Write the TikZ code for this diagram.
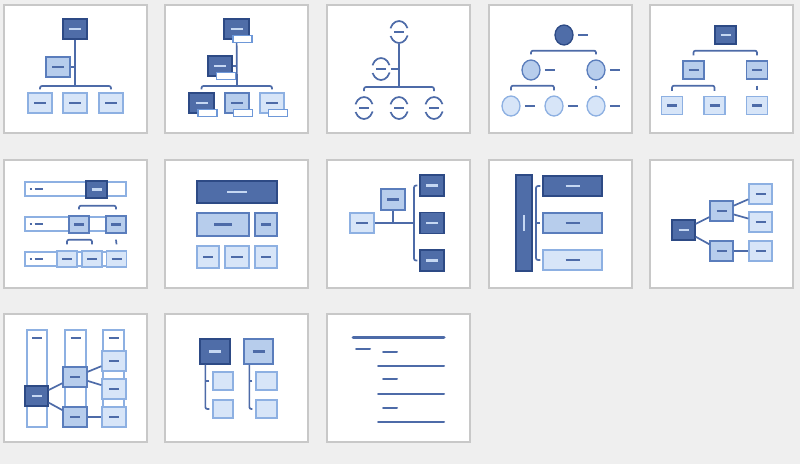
\documentclass[tikz,border=0pt]{standalone}
\usepackage{tikz}
\usetikzlibrary{shapes.geometric}

\definecolor{bgc}{HTML}{EFEFEF}
\definecolor{tilec}{HTML}{C8C8C8}
\definecolor{lnc}{HTML}{4D6BA8}
\definecolor{dkfill}{HTML}{4F6DA8}
\definecolor{dkdraw}{HTML}{2D4A85}
\definecolor{dktext}{HTML}{C5D7F2}
\definecolor{mdfill}{HTML}{B7CDEC}
\definecolor{mddraw}{HTML}{5A7DBC}
\definecolor{ltfill}{HTML}{D7E5F8}
\definecolor{ltdraw}{HTML}{8DB0E2}
\definecolor{subc}{HTML}{6E98D8}

\newcommand{\dsh}[1][12]{\rule{#1pt}{2.2pt}}

\begin{document}
\begin{tikzpicture}[x=1pt,y=-1pt,
  tile/.style={draw=tilec,fill=white,line width=2pt},
  ln/.style={draw=lnc,line width=1.7pt},
  bx/.style={rectangle,inner sep=0pt,minimum width=24pt,minimum height=20pt,line width=1.3pt},
  dk/.style={bx,fill=dkfill,draw=dkdraw,text=dktext},
  md/.style={bx,fill=mdfill,draw=mddraw,text=lnc},
  lt/.style={bx,fill=ltfill,draw=ltdraw,text=lnc},
  sub/.style={rectangle,inner sep=0pt,minimum width=19pt,minimum height=7pt,fill=white,draw=subc,line width=1.1pt},
  lbl/.style={inner sep=0pt,text=lnc},
  ov/.style={ellipse,inner sep=0pt,minimum width=18pt,minimum height=22pt,draw=lnc,line width=1.7pt,
    dash pattern=on 23.8pt off 7.7pt,dash phase=27.65pt,text=lnc},
  ovl/.style={ellipse,minimum width=18pt,minimum height=20pt,
    label={[lbl,label distance=4pt]right:{\dsh[10]}}},
  bar/.style={rectangle,inner sep=0pt,minimum width=101pt,minimum height=14pt,fill=white,draw=ltdraw,line width=1.3pt,
    label={[lbl,anchor=west,xshift=5pt]west:{\dsh[2.5]\hspace{2.5pt}\dsh[8]}}},
  col/.style={rectangle,inner sep=0pt,minimum width=20pt,minimum height=97pt,fill=white,draw=ltdraw,line width=1.3pt,
    label={[lbl,anchor=north,yshift=-7pt]north:{\dsh[10]}}}
]
\useasboundingbox (0,0) rectangle (800,464);
\fill[bgc] (0,0) rectangle (800,464);

% frames
\draw[tile] (4,5) rectangle (147,133);
\draw[tile] (165,5) rectangle (308,133);
\draw[tile] (327,5) rectangle (470,133);
\draw[tile] (489,5) rectangle (632,133);
\draw[tile] (650,5) rectangle (793,133);
\draw[tile] (4,160) rectangle (147,288);
\draw[tile] (165,160) rectangle (308,288);
\draw[tile] (327,160) rectangle (470,288);
\draw[tile] (489,160) rectangle (632,288);
\draw[tile] (650,160) rectangle (793,288);
\draw[tile] (4,314) rectangle (147,442);
\draw[tile] (165,314) rectangle (308,442);
\draw[tile] (327,314) rectangle (470,442);

% organization chart
\node[dk] (a0) at (75,29) {\dsh};
\node[md] (a1) at (58,67) {\dsh};
\node[lt] (a2) at (40,103) {\dsh};
\node[lt] (a3) at (75,103) {\dsh};
\node[lt] (a4) at (111,103) {\dsh};
\coordinate (aj) at (75,86);
\draw[ln] (a0) -- (aj);
\draw[ln] (a1) -- (a1 -| aj);
\draw[ln,rounded corners=2pt] ([yshift=3pt]a2.north) |- (aj) -| ([yshift=3pt]a4.north);

% name and title chart
\node[dk,minimum width=25pt] (b0) at (236.5,29) {\dsh};
\node[dk] (b1) at (220,66) {\dsh};
\node[dk,minimum width=25pt] (b2) at (201.5,103) {\dsh};
\node[md] (b3) at (237,103) {\dsh};
\node[lt] (b4) at (272,103) {\dsh};
\coordinate (bj) at (237,86);
\draw[ln] (b0) -- (bj);
\draw[ln] (b1) -- (b1 -| bj);
\draw[ln,rounded corners=2pt] ([yshift=3pt]b2.north) |- (bj) -| ([yshift=3pt]b4.north);
\node[sub] (b0s) at ([xshift=6pt,yshift=-10pt]b0.center) {};
\node[sub] (b1s) at ([xshift=6pt,yshift=-10pt]b1.center) {};
\node[sub] (b2s) at ([xshift=6pt,yshift=-10pt]b2.center) {};
\node[sub] (b3s) at ([xshift=6pt,yshift=-10pt]b3.center) {};
\node[sub] (b4s) at ([xshift=6pt,yshift=-10pt]b4.center) {};

% half circle chart
\node[ov] (c0) at (399,32) {\dsh[10]};
\node[ov] (c1) at (381,69) {\dsh[10]};
\node[ov] (c2) at (364,108) {\dsh[10]};
\node[ov] (c3) at (399,108) {\dsh[10]};
\node[ov] (c4) at (434,108) {\dsh[10]};
\coordinate (cj) at (399,87);
\draw[ln] (c0) -- (cj);
\draw[ln] (c1) -- (c1 -| cj);
\draw[ln,rounded corners=2pt] ([yshift=5pt]c2.north) |- (cj) -| ([yshift=5pt]c4.north);

% circle hierarchy
\node[dk,ovl] (d0) at (564,35) {};
\node[md,ovl] (d1) at (531,70) {};
\node[md,ovl] (d2) at (596,70) {};
\node[lt,ovl] (d3) at (511,106) {};
\node[lt,ovl] (d4) at (554,106) {};
\node[lt,ovl] (d5) at (596,106) {};
\draw[ln,rounded corners=2pt] ([yshift=5pt]d1.north) |- ([yshift=-5pt]d0.south) -| ([yshift=5pt]d2.north);
\draw[ln,rounded corners=2pt] ([yshift=5pt]d3.north) |- ([yshift=-5pt]d1.south) -| ([yshift=5pt]d4.north);
\draw[ln] ([yshift=-5pt]d2.south) -- ([yshift=6pt]d5.north);

% hierarchy
\node[dk,minimum width=21pt,minimum height=18pt] (e0) at (725.5,35) {\dsh[10]};
\node[md,minimum width=21pt,minimum height=18pt] (e1) at (693.5,70) {\dsh[10]};
\node[md,minimum width=21pt,minimum height=18pt] (e2) at (757,70) {\dsh[10]};
\node[lt,minimum width=21pt,minimum height=18pt] (e3) at (672,105.5) {\dsh[10]};
\node[lt,minimum width=21pt,minimum height=18pt] (e4) at (714.5,105.5) {\dsh[10]};
\node[lt,minimum width=21pt,minimum height=18pt] (e5) at (757,105.5) {\dsh[10]};
\draw[ln,rounded corners=2pt] ([yshift=5pt]e1.north) |- ([yshift=-6pt]e0.south) -| ([yshift=5pt]e2.north);
\draw[ln,rounded corners=2pt] ([yshift=5pt]e3.north) |- ([yshift=-6pt]e1.south) -| ([yshift=5pt]e4.north);
\draw[ln] ([yshift=-6pt]e2.south) -- ([yshift=6pt]e5.north);

% labeled hierarchy
\node[bar] (f0) at (75.5,189) {};
\node[bar] (f1) at (75.5,224) {};
\node[bar] (f2) at (75.5,259) {};
\node[dk,minimum width=21pt,minimum height=17pt] (f3) at (96.5,189.5) {\dsh[10]};
\node[md,minimum width=20pt,minimum height=17pt] (f4) at (79,224.5) {\dsh[10]};
\node[md,minimum width=20pt,minimum height=17pt] (f5) at (116,224.5) {\dsh[10]};
\node[lt,minimum width=20pt,minimum height=16pt] (f6) at (67,259) {\dsh[10]};
\node[lt,minimum width=20pt,minimum height=16pt] (f7) at (92,259) {\dsh[10]};
\node[lt,minimum width=20pt,minimum height=16pt] (f8) at (116.5,259) {\dsh[10]};
\draw[ln,rounded corners=2pt] ([yshift=6pt]f4.north) |- ([yshift=-7pt]f3.south) -| ([yshift=6pt]f5.north);
\draw[ln,rounded corners=2pt] ([yshift=6pt]f6.north) |- ([yshift=-6pt]f4.south) -| ([yshift=6pt]f7.north);
\draw[ln] ([yshift=-6pt]f5.south) -- ([yshift=6pt]f8.north);

% table hierarchy
\node[dk,minimum width=80pt,minimum height=22pt] (g0) at (237,192) {\dsh[20]};
\node[md,minimum width=52pt,minimum height=23pt] (g1) at (223,224.5) {\dsh[18]};
\node[md,minimum width=22pt,minimum height=23pt] (g2) at (266,224.5) {\dsh[10]};
\node[lt,minimum width=22pt,minimum height=22pt] (g3) at (208,257) {\dsh[10]};
\node[lt,minimum width=24pt,minimum height=22pt] (g4) at (237,257) {\dsh[12]};
\node[lt,minimum width=22pt,minimum height=22pt] (g5) at (266,257) {\dsh[10]};

% architecture layout
\node[lt] (h0) at (362,223) {\dsh};
\node[md,minimum height=21pt] (h1) at (393,199.5) {\dsh};
\node[dk,minimum height=21pt] (h2) at (432,185.5) {\dsh};
\node[dk,minimum height=21pt] (h3) at (432,223) {\dsh};
\node[dk,minimum height=21pt] (h4) at (432,260.5) {\dsh};
\coordinate (hj) at (414,223);
\draw[ln] (h0) -- (hj);
\draw[ln] (h1) -- (h1 |- hj);
\draw[ln,rounded corners=2pt] ([xshift=-2pt]h2.west) -| (hj) |- ([xshift=-2pt]h4.west);

% hierarchy list
\node[dk,minimum width=16pt,minimum height=96pt] (i0) at (524,223) {\rule{2.2pt}{16pt}};
\node[dk,minimum width=59pt] (i1) at (572.5,186) {\dsh[14]};
\node[md,minimum width=59pt] (i2) at (572.5,223) {\dsh[14]};
\node[lt,minimum width=59pt] (i3) at (572.5,260) {\dsh[14]};
\coordinate (ij) at (536,223);
\draw[ln,rounded corners=2pt] ([xshift=-2pt]i1.west) -| (ij) |- ([xshift=-2pt]i3.west);
\draw[ln] (ij) -- ([xshift=-2pt]i2.west);

% horizontal hierarchy
\node[dk,minimum width=23pt] (j0) at (683.5,230) {\dsh[10]};
\node[md,minimum width=23pt] (j1) at (721.5,211) {\dsh[10]};
\node[md,minimum width=23pt] (j2) at (721.5,251) {\dsh[10]};
\node[lt,minimum width=23pt] (j3) at (760.5,194) {\dsh[10]};
\node[lt,minimum width=23pt] (j4) at (760.5,222) {\dsh[10]};
\node[lt,minimum width=23pt] (j5) at (760.5,251) {\dsh[10]};
\path[ln] (j0) edge (j1) edge (j2);
\path[ln] (j1) edge (j3) edge (j4);
\path[ln] (j2) edge (j5);

% horizontal labeled hierarchy
\node[col] (k0) at (37,378.5) {};
\node[col,minimum width=21pt] (k1) at (75.5,378.5) {};
\node[col,minimum width=21pt] (k2) at (113.5,378.5) {};
\node[dk,minimum width=23pt] (k3) at (36.5,396) {\dsh[10]};
\node[md] (k4) at (75,377) {\dsh[10]};
\node[md] (k5) at (75,417) {\dsh[10]};
\node[lt] (k6) at (114,361) {\dsh[10]};
\node[lt] (k7) at (114,389) {\dsh[10]};
\node[lt] (k8) at (114,417) {\dsh[10]};
\path[ln] (k3) edge (k4) edge (k5);
\path[ln] (k4) edge (k6) edge (k7);
\path[ln] (k5) edge (k8);

% lined list
\node[dk,minimum width=30pt,minimum height=25pt] (l0) at (215,351.5) {\dsh};
\node[md,minimum width=29pt,minimum height=25pt] (l1) at (258.5,351.5) {\dsh};
\node[lt,minimum width=20pt,minimum height=18pt] (l2) at (223,381) {};
\node[lt,minimum width=20pt,minimum height=18pt] (l3) at (223,409) {};
\node[lt,minimum width=21pt,minimum height=18pt] (l4) at (266.5,381) {};
\node[lt,minimum width=21pt,minimum height=18pt] (l5) at (266.5,409) {};
\draw[ln,rounded corners=2pt] ([xshift=6pt]l0.south west) |- ([xshift=-3pt]l3.west);
\draw[ln] ([xshift=-3pt]l2.west) -- ([xshift=6pt]l0.south west |- l2.west);
\draw[ln,rounded corners=2pt] ([xshift=6pt]l1.south west) |- ([xshift=-3pt]l5.west);
\draw[ln] ([xshift=-3pt]l4.west) -- ([xshift=6pt]l1.south west |- l4.west);

% bulleted lines
\draw[ln,line width=3pt,line cap=round] (353,337) -- (444,337);
\draw[ln,line width=2pt,line cap=round] (356,349) -- (370,349);
\draw[ln,line width=2pt,line cap=round] (383,352) -- (397,352);
\draw[ln,line width=2pt,line cap=round] (378,366) -- (444,366);
\draw[ln,line width=2pt,line cap=round] (383,379) -- (397,379);
\draw[ln,line width=2pt,line cap=round] (378,394) -- (444,394);
\draw[ln,line width=2pt,line cap=round] (383,408) -- (397,408);
\draw[ln,line width=2pt,line cap=round] (378,422) -- (444,422);
\end{tikzpicture}
\end{document}
